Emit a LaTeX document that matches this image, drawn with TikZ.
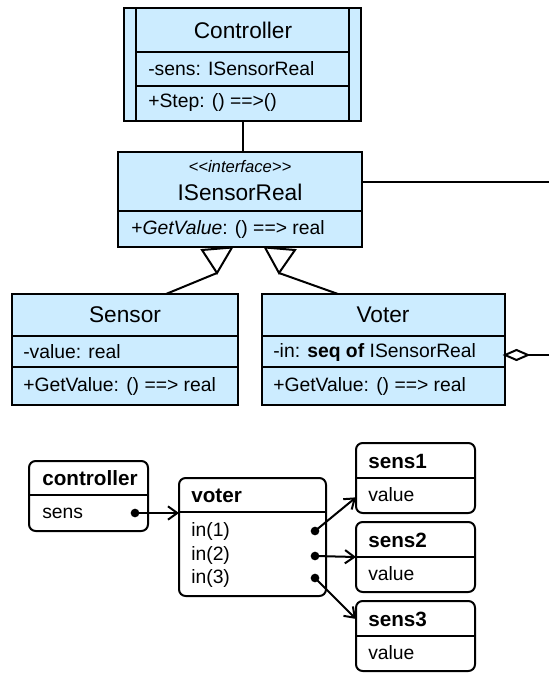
\documentclass[tikz,border=0pt]{standalone}
\usepackage{fontspec}
\setmainfont{Liberation Sans}
\usepackage{tikz}
\usetikzlibrary{arrows.meta}

\definecolor{umlblue}{RGB}{204,236,255}

\tikzset{
  classbox/.style={draw, line width=1.5pt, fill=umlblue, anchor=north west, inner sep=0pt, outer sep=0pt},
  objbox/.style={draw, line width=1.5pt, fill=white, rounded corners=5pt, anchor=north west, inner sep=0pt, outer sep=0pt},
  title/.style={inner sep=0pt, font=\fontsize{17}{20}\selectfont},
  attr/.style={anchor=west, inner sep=0pt, font=\fontsize{14.5}{17}\selectfont},
  objtitle/.style={anchor=west, inner sep=0pt, font=\fontsize{15.5}{18}\selectfont\bfseries},
  pin/.style={circle, fill=black, inner sep=0pt, minimum size=6.5pt},
  link/.style={line width=1.5pt, -{Straight Barb[length=7pt,width=10pt,line width=1.5pt]}}
}

\begin{document}
\begin{tikzpicture}[x=0.75pt,y=0.75pt,yscale=-1,xscale=1]
\useasboundingbox (0,0) rectangle (549,673);

%Shape: Rectangle [Controller]
\node[classbox, minimum width=177.75pt, minimum height=84.75pt] (ctrl) at (124,8) {};
\draw[line width=1.5pt] (136,8) -- (136,121) ;
\draw[line width=1.5pt] (349,8) -- (349,121) ;
\draw[line width=1pt] (136,52) -- (349,52) ;
\draw[line width=1pt] (136,86) -- (349,86) ;
%Shape: Rectangle [ISensorReal]
\node[classbox, minimum width=183pt, minimum height=71.25pt] (isr) at (118,152) {};
\draw[line width=1pt] (118,211) -- (362,211) ;
%Shape: Rectangle [Sensor]
\node[classbox, minimum width=169.5pt, minimum height=83.25pt] (sensor) at (12,294) {};
\draw[line width=1pt] (12,336) -- (238,336) ;
\draw[line width=1pt] (12,367) -- (238,367) ;
%Shape: Rectangle [Voter]
\node[classbox, minimum width=182.25pt, minimum height=83.25pt] (voter) at (262,294) {};
\draw[line width=1pt] (262,336) -- (505,336) ;
\draw[line width=1pt] (262,367) -- (505,367) ;

%Straight Lines
\draw[line width=1.5pt] (ctrl.south) -- (ctrl.south |- isr.north) ;
\coordinate (edgeA) at (549,182);
\draw[line width=1.5pt] (isr.east |- edgeA) -- (edgeA) ;
%Aggregation
\coordinate (edgeB) at (549,355);
\coordinate (dmdTip) at (voter.east |- edgeB);
\coordinate (dmdEnd) at (528,355);
\draw[line width=1.5pt] (edgeB) -- (dmdEnd) ;
\draw[line width=1.5pt, fill=white, line join=miter] (dmdTip) -- (516.5,350) -- (dmdEnd) -- (516.5,360) -- cycle ;
%Generalisations
\coordinate (sensTop) at (166,294);
\coordinate (genS) at (217,273);
\draw[line width=1.5pt] (sensTop) -- (genS) ;
\draw[line width=1.5pt, fill=white, line join=miter] (202,250) -- (232,247.5) -- (genS) -- cycle ;
\coordinate (voterTop) at (338,294);
\coordinate (genV) at (279,273);
\draw[line width=1.5pt] (voterTop) -- (genV) ;
\draw[line width=1.5pt, fill=white, line join=miter] (265,247.5) -- (295,250) -- (genV) -- cycle ;

% Text Node
\node[title] at (243,30) {Controller};
\node[attr] at (148,69) {-sens: ISensorReal};
\node[attr] at (148,103) {+Step: () ==>()};
% Text Node
\node[inner sep=0pt, font=\fontsize{12.5}{15}\selectfont\itshape] at (240,167) {<\kern0pt<interface>\kern0pt>};
\node[title] at (240,192) {ISensorReal};
\node[attr] at (131,229) {+\textit{GetValue}: () ==> real};
% Text Node
\node[title] at (125,315) {Sensor};
\node[attr] at (23,352) {-value: real};
\node[attr] at (23,386) {+GetValue: () ==> real};
% Text Node
\node[title] at (383,315) {Voter};
\node[attr] at (273,352) {-in: \textbf{seq of} ISensorReal};
\node[attr] at (273,386) {+GetValue: () ==> real};

%Shape: Rounded Rect [objects]
\node[objbox, minimum width=89.25pt, minimum height=52.5pt] (octrl) at (29,461) {};
\draw[line width=1pt] (29,495) -- (148,495) ;
\node[objbox, minimum width=110.25pt, minimum height=88.5pt] (ovoter) at (179,478) {};
\draw[line width=1pt] (179,512) -- (326,512) ;
\node[objbox, minimum width=89.25pt, minimum height=52.5pt] (sens1) at (356,443) {};
\draw[line width=1pt] (356,478) -- (475,478) ;
\node[objbox, minimum width=89.25pt, minimum height=52.5pt] (sens2) at (356,522) {};
\draw[line width=1pt] (356,557) -- (475,557) ;
\node[objbox, minimum width=89.25pt, minimum height=52.5pt] (sens3) at (356,601) {};
\draw[line width=1pt] (356,636) -- (475,636) ;

% Text Node
\node[objtitle] at (42,478) {controller};
\node[attr] at (42,513) {sens};
\node[objtitle] at (191,496) {voter};
\node[attr] at (191,531) {in(1)};
\node[attr] at (191,555) {in(2)};
\node[attr] at (191,578) {in(3)};
\node[objtitle] at (368,461) {sens1};
\node[attr] at (368,495) {value};
\node[objtitle] at (368,540) {sens2};
\node[attr] at (368,574) {value};
\node[objtitle] at (368,619) {sens3};
\node[attr] at (368,653) {value};

%Pins and links
\node[pin] (dc) at (135,513) {};
\node[pin] (d1) at (315,531) {};
\node[pin] (d2) at (315,556) {};
\node[pin] (d3) at (315,578) {};
\draw[link] (dc.center) -- (ovoter.west |- dc) ;
\draw[link] (d1.center) -- (sens1.198) ;
\draw[link] (d2.center) -- (sens2.west) ;
\draw[link] (d3.center) -- (sens3.164) ;

\end{tikzpicture}
\end{document}
